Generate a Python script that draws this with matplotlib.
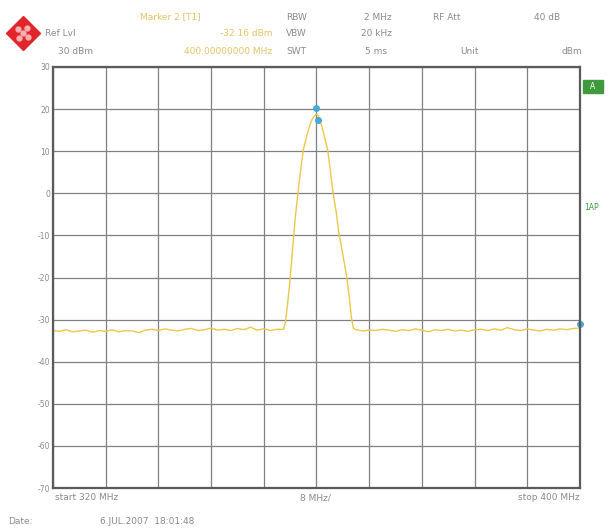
import numpy as np
import matplotlib.pyplot as plt
from matplotlib.lines import Line2D
from matplotlib.patches import Rectangle

# spectrum trace, MHz / dBm
floor_left_f = list(range(320, 355))
floor_left_db = [-32.6, -32.8, -32.4, -32.9, -32.7, -32.5, -33.0, -32.6, -32.8, -32.4,
                 -32.9, -32.6, -32.7, -33.1, -32.5, -32.3, -32.6, -32.2, -32.5, -32.7,
                 -32.3, -32.1, -32.6, -32.4, -32.0, -32.5, -32.3, -32.6, -32.1, -32.4,
                 -31.8, -32.5, -32.2, -32.6, -32.3]
peak_f = [355.0, 355.3, 355.6, 355.9, 356.2, 356.5, 356.8, 357.2, 357.6, 358.0,
          358.5, 358.9, 359.3, 359.7, 360.0, 360.3, 360.8, 361.2, 361.7, 362.1,
          362.5, 363.0, 363.4, 364.0, 364.6, 365.0, 365.3, 365.6]
peak_db = [-32.3, -30.5, -26.5, -22.0, -16.5, -11.0, -5.5, 0.3, 5.5, 10.3,
           13.5, 15.7, 17.4, 18.4, 18.8, 18.4, 16.0, 13.5, 10.3, 5.5,
           0.3, -4.5, -9.4, -14.5, -19.9, -25.0, -29.5, -32.0]
floor_right_f = list(range(366, 401))
floor_right_db = [-32.4, -32.7, -32.5, -32.6, -32.3, -32.5, -32.8, -32.4, -32.6, -32.2,
                  -32.5, -32.9, -32.4, -32.6, -32.3, -32.7, -32.5, -32.8, -32.4, -32.3,
                  -32.6, -32.2, -32.5, -31.9, -32.4, -32.6, -32.2, -32.5, -32.7, -32.3,
                  -32.5, -32.2, -32.4, -32.1, -32.0]
freq = floor_left_f + peak_f + floor_right_f
level = floor_left_db + peak_db + floor_right_db

marker_f = [360.0, 360.2, 400.0]
marker_db = [20.3, 17.4, -31.0]

y_ticks = [30, 20, 10, 0, -10, -20, -30, -40, -50, -60, -70]
x_ticks = list(range(320, 401, 8))

grey = "#8a8a8a"
yel = "#e6c266"

fig = plt.figure(figsize=(6.12, 5.30), dpi=100)
ax = fig.add_axes([0.0866, 0.0792, 0.861, 0.7944])
ax.plot(freq, level, color="#ecc84a", lw=1.0)
ax.plot(marker_f, marker_db, "o", color="#4aa8d8", ms=4, clip_on=False)
ax.set_xlim(320, 400)
ax.set_ylim(-70, 30)
ax.set_xticks(x_ticks)
ax.set_yticks(y_ticks)
ax.set_xticklabels([])
ax.set_yticklabels([str(v) for v in y_ticks], fontsize=5.5, color=grey)
ax.tick_params(length=0, pad=2)
ax.grid(True, color="#808080", lw=0.9)
for s in ax.spines.values():
    s.set_color("#5a5a5a")
    s.set_linewidth(1.6)

def t(x, y, s, c=grey, ha="left", size=6.5):
    fig.text(x / 612, 1 - y / 530, s, color=c, ha=ha, va="center", fontsize=size)

# header
t(140, 17, "Marker 2 [T1]", yel)
t(272, 34, "-32.16 dBm", yel, "right")
t(272, 51, "400.00000000 MHz", yel, "right")
t(286, 17, "RBW")
t(286, 34, "VBW")
t(286, 51, "SWT")
t(392, 17, "2 MHz", ha="right")
t(392, 34, "20 kHz", ha="right")
t(387, 51, "5 ms", ha="right")
t(433, 17, "RF Att")
t(460, 51, "Unit")
t(560, 17, "40 dB", ha="right")
t(582, 51, "dBm", ha="right")
t(45, 34, "Ref Lvl")
t(58, 51, "30 dBm")

# footer
t(55, 498, "start 320 MHz")
t(300, 498, "8 MHz/")
t(580, 498, "stop 400 MHz", ha="right")
t(8, 521, "Date:")
t(100, 521, "6.JUL.2007  18:01:48")

# side labels
fig.patches.append(Rectangle((583 / 612, 1 - 93 / 530), 20 / 612, 13 / 530,
                             transform=fig.transFigure, color="#3e9a3a"))
t(593, 86.5, "A", "white", "center", 5.5)
t(592, 207, "1AP", "#3e9a3a", "center", 5.5)

# logo
fig.add_artist(Line2D([23 / 612], [1 - 33 / 530], marker="D", ms=17,
                      color="#e0262a", transform=fig.transFigure))
for dx, dy in [(-5, -4), (4, -5), (-4, 5), (5, 4), (0, 0)]:
    fig.add_artist(Line2D([(23 + dx) / 612], [1 - (33 + dy) / 530], marker="o", ms=3.5,
                          color="#f6b0b0", transform=fig.transFigure))

fig.savefig("out.png", dpi=100)
